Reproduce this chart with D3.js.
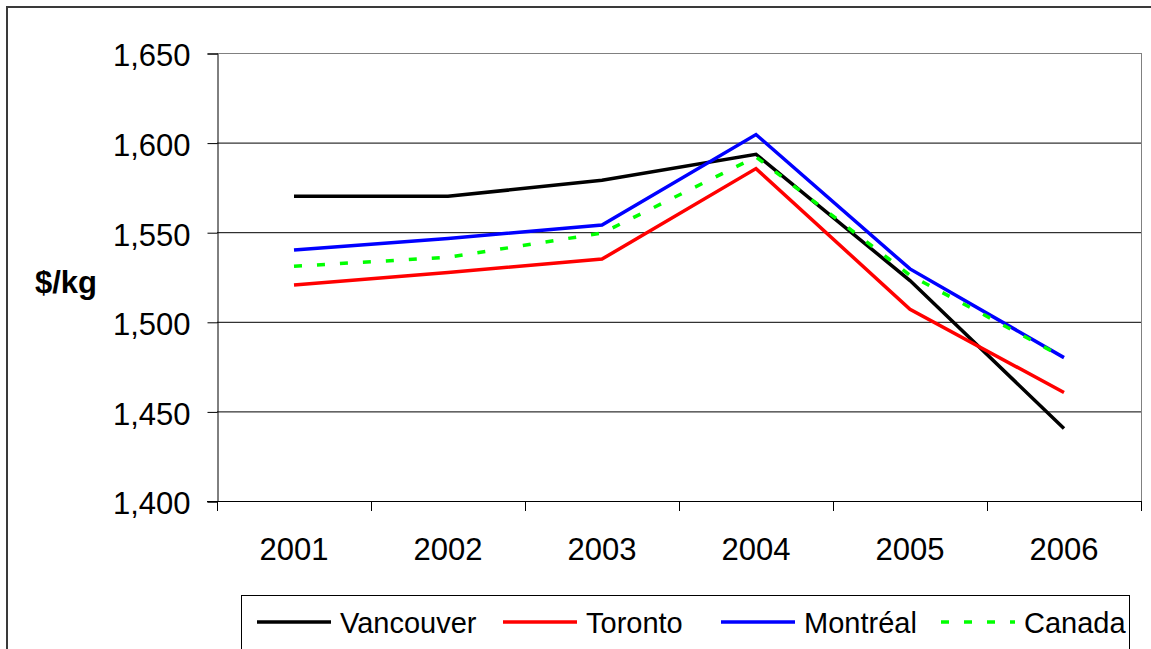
<!DOCTYPE html>
<html>
<head>
<meta charset="utf-8">
<script src="https://cdn.jsdelivr.net/npm/d3@7"></script>
<style>
  body { margin: 0; background: #fff; }
  svg text { font-family: "Liberation Sans", Arial, sans-serif; fill: #000; }
</style>
</head>
<body>
<div id="chart"></div>
<script>
// data
const years = ["2001", "2002", "2003", "2004", "2005", "2006"];
const vancouver = [1570, 1570, 1579, 1593.5, 1523, 1440.5];
const toronto   = [1520.5, 1527.5, 1535, 1585.5, 1507, 1460.5];
const montreal  = [1540, 1546.5, 1554, 1604.5, 1529.5, 1480];
const canada    = [1531, 1536, 1549.5, 1592, 1526, 1480];
const yTicks = [1400, 1450, 1500, 1550, 1600, 1650];

const series = [
    {name: "Vancouver", values: vancouver, color: "#000000", dash: null},
    {name: "Toronto", values: toronto, color: "#ff0000", dash: null},
    {name: "Montréal", values: montreal, color: "#0000ff", dash: null},
    {name: "Canada", values: canada, color: "#00ff00", dash: "8,15"}
];

const W = 1151, H = 649;
const plot = {left: 217, top: 53, right: 1141, bottom: 501};

const svg = d3.select("#chart").append("svg")
    .attr("width", W)
    .attr("height", H);

// outer chart border (runs off the right and bottom edges)
svg.append("rect")
    .attr("x", 7).attr("y", 7)
    .attr("width", 1160).attr("height", 670)
    .attr("fill", "none")
    .attr("stroke", "#3a3a3a")
    .attr("stroke-width", 2);

let x = d3.scaleBand().domain(years).range([plot.left, plot.right]);
let y = d3.scaleLinear().domain([1400, 1650]).range([plot.bottom, plot.top]);

// gridlines
svg.append("g").selectAll("line").data(yTicks.filter(d => d > 1400))
    .enter().append("line")
    .attr("x1", plot.left).attr("x2", plot.right)
    .attr("y1", d => y(d) + 0.5).attr("y2", d => y(d) + 0.5)
    .attr("stroke", d => d === 1650 ? "#808080" : "#000")
    .attr("stroke-width", 1);

// plot area right border
svg.append("line")
    .attr("x1", plot.right + 0.5).attr("x2", plot.right + 0.5)
    .attr("y1", plot.top).attr("y2", plot.bottom)
    .attr("stroke", "#808080");

// y axis
let yAxis = d3.axisLeft(y)
    .tickValues(yTicks)
    .tickSize(10)
    .tickPadding(17)
    .tickFormat(d3.format(","));

let gy = svg.append("g")
    .attr("transform", "translate(" + (plot.left + 0.5) + ",0.5)")
    .call(yAxis);
gy.select(".domain").attr("stroke", "#000");
gy.selectAll(".tick line").attr("stroke", "#000");
gy.selectAll(".tick text")
    .attr("font-size", 31)
    .attr("dy", "0.4em")
    .style("font-family", "'Liberation Sans', Arial, sans-serif");

// x axis: labels at centres, ticks at category edges
let xAxis = d3.axisBottom(x).tickSize(0).tickPadding(0);
let gx = svg.append("g")
    .attr("transform", "translate(0," + (plot.bottom + 0.5) + ")")
    .call(xAxis);
gx.select(".domain").remove();
gx.selectAll(".tick text")
    .attr("font-size", 31)
    .attr("y", 58)
    .attr("dy", 0)
    .style("font-family", "'Liberation Sans', Arial, sans-serif");

svg.append("line")
    .attr("x1", plot.left - 10).attr("x2", plot.right + 1)
    .attr("y1", plot.bottom + 0.5).attr("y2", plot.bottom + 0.5)
    .attr("stroke", "#000");

let edges = years.map(d => x(d)).concat([x(years[years.length - 1]) + x.bandwidth()]);
svg.append("g").selectAll("line").data(edges)
    .enter().append("line")
    .attr("x1", d => Math.round(d) + 0.5).attr("x2", d => Math.round(d) + 0.5)
    .attr("y1", plot.bottom).attr("y2", plot.bottom + 10)
    .attr("stroke", "#000");

// y axis title
svg.append("text")
    .attr("x", 35).attr("y", 293)
    .attr("font-size", 31)
    .attr("font-weight", "bold")
    .text("$/kg");

// lines
let line = d3.line()
    .x((d, i) => x(years[i]) + x.bandwidth() / 2)
    .y(d => y(d));

svg.append("g").selectAll("path").data(series)
    .enter().append("path")
    .attr("d", d => line(d.values))
    .attr("fill", "none")
    .attr("stroke", d => d.color)
    .attr("stroke-width", 3.5)
    .attr("stroke-dasharray", d => d.dash)
    .attr("stroke-linejoin", "miter");

// legend
const legendX = [257, 503, 721, 941];
svg.append("rect")
    .attr("x", 241.5).attr("y", 595.5)
    .attr("width", 888).attr("height", 80)
    .attr("fill", "#fff")
    .attr("stroke", "#000");

let items = svg.append("g").selectAll("g").data(series)
    .enter().append("g")
    .attr("transform", (d, i) => "translate(" + legendX[i] + ",0)");

items.append("line")
    .attr("x1", 0).attr("x2", 74)
    .attr("y1", 622).attr("y2", 622)
    .attr("stroke", d => d.color)
    .attr("stroke-width", 3.5)
    .attr("stroke-dasharray", d => d.dash);

items.append("text")
    .attr("x", 83).attr("y", 633)
    .attr("font-size", 29)
    .text(d => d.name);
</script>
</body>
</html>
